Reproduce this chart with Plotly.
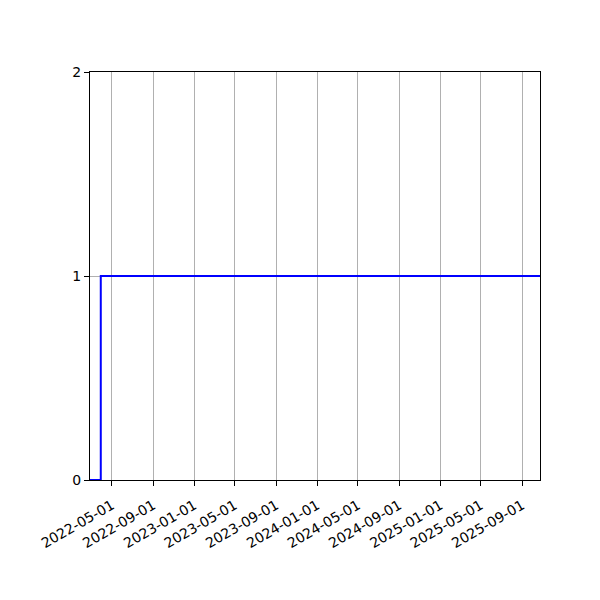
import plotly.graph_objects as go

# step series: off until late March 2022, on from then on
dates = ["2022-02-25", "2022-03-29", "2025-10-24"]
values = [0, 1, 1]

tick_dates = ["2022-05-01", "2022-09-01", "2023-01-01", "2023-05-01",
              "2023-09-01", "2024-01-01", "2024-05-01", "2024-09-01",
              "2025-01-01", "2025-05-01", "2025-09-01"]
y_ticks = [0, 1, 2]

fig = go.Figure()
fig.add_trace(go.Scatter(x=dates, y=values, mode="lines",
                         line=dict(color="blue", width=2, shape="hv"),
                         showlegend=False))

axis_style = dict(showline=True, linecolor="black", linewidth=1, mirror=True,
                  ticks="outside", ticklen=5, tickcolor="black",
                  showgrid=True, gridcolor="#b0b0b0", gridwidth=1,
                  zeroline=False, tickfont=dict(family="DejaVu Sans", size=14, color="black"))

fig.update_xaxes(range=[dates[0], dates[-1]], tickvals=tick_dates, ticktext=tick_dates,
                 tickangle=-30, ticklabelstandoff=6, **axis_style)
fig.update_yaxes(range=[0, 2], tickvals=y_ticks, **axis_style)

# page body adds 8px, so margins are shifted to land the axes at 90..540 / 72..480
fig.update_layout(width=600, height=600, template="none",
                  plot_bgcolor="white", paper_bgcolor="white",
                  margin=dict(l=82, r=68, t=64, b=128))

fig.write_html("out.html")
